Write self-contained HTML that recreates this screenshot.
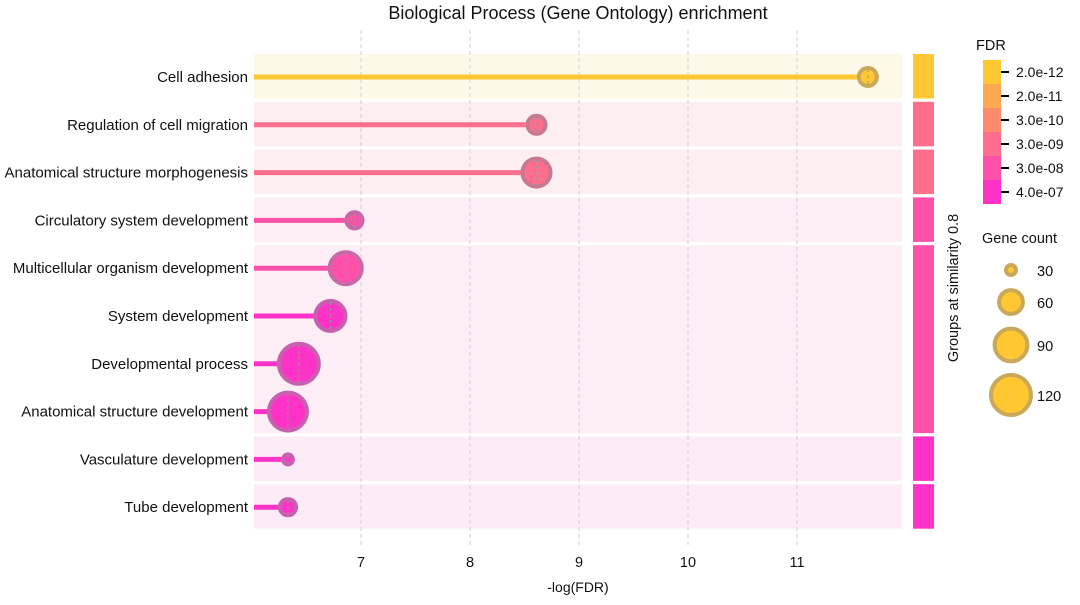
<!DOCTYPE html>
<html><head><meta charset="utf-8"><style>
body{margin:0;background:#fff;font-family:"Liberation Sans",Arial,sans-serif}
svg text{font-family:"Liberation Sans",Arial,sans-serif;fill:#111}
</style></head><body>
<svg id="c" width="1080" height="600" viewBox="0 0 1080 600">
<text x="578" y="19" font-size="18" text-anchor="middle">Biological Process (Gene Ontology) enrichment</text>
<text x="578" y="592" font-size="14" text-anchor="middle">-log(FDR)</text>
<g id="bands"></g><g id="grid"></g><g id="marks"></g><g id="grp"></g><g id="legend"></g>
<text transform="translate(958,288) rotate(-90)" font-size="14.5" text-anchor="middle">Groups at similarity 0.8</text>
</svg>
<script>
const terms=["Cell adhesion","Regulation of cell migration","Anatomical structure morphogenesis","Circulatory system development","Multicellular organism development","System development","Developmental process","Anatomical structure development","Vasculature development","Tube development"];
const negLogFDR=[11.65,8.61,8.61,6.94,6.86,6.72,6.43,6.33,6.33,6.33];
const geneCount=[45,45,73,41,87,80,120,111,30,41];
const colorIdx=[0,3,3,4,4,5,5,5,5,5];
const groups=[[0,0],[1,1],[2,2],[3,3],[4,7],[8,8],[9,9]];
const xTicks=[7,8,9,10,11];
const fdrLabels=["2.0e-12","2.0e-11","3.0e-10","3.0e-09","3.0e-08","4.0e-07"];
const sizeLegend=[30,60,90,120];
const palette=["#ffc832","#ffa852","#ff8a6e","#ff6e8c","#ff50aa","#ff32c8"];
const edge=["#c9a85a","#c9a85a","#c98878","#c87890","#c868a8","#c860b0"];
const bandFill=["#fef8e8","#fdf0f0","#fdeef2","#fdeef2","#fdeef6","#fdecf8"];
const NS="http://www.w3.org/2000/svg";
function mk(t,a,p){const e=document.createElementNS(NS,t);for(const k in a)e.setAttribute(k,a[k]);p.appendChild(e);return e;}
const X0=6.0183,PX=109,L=254,R=902;
const xs=v=>L+(v-X0)*PX;
const ys=i=>77+i*47.8;
const rs=c=>Math.sqrt(Math.max(4.83*c-96,9));
const bands=document.getElementById('bands'),grid=document.getElementById('grid'),marks=document.getElementById('marks'),grp=document.getElementById('grp'),lg=document.getElementById('legend');
groups.forEach((g,k)=>{
 const y1=ys(g[0])-23,y2=ys(g[1])+21.5;
 const b=mk('rect',{x:L,y:y1,width:R-L,height:y2-y1,fill:bandFill[colorIdx[g[0]]]},bands);
 
 
 const s=mk('rect',{x:913,y:y1,width:21,height:y2-y1,fill:palette[colorIdx[g[0]]]},grp);
 
 
});
xTicks.forEach(t=>{
 const l=mk('line',{x1:xs(t),x2:xs(t),y1:30,y2:545,stroke:'#cfcfcf','stroke-dasharray':'4,3','stroke-width':1},grid);
 
 
 const tx=mk('text',{x:xs(t),y:567,'font-size':14.5,'text-anchor':'middle'},grid);tx.textContent=t;
 
 
});
terms.forEach((n,i)=>{
 const y=ys(i),x=xs(negLogFDR[i]),r=rs(geneCount[i]),c=palette[colorIdx[i]];
 const st=mk('line',{x1:L,x2:x,y1:y,y2:y,stroke:c,'stroke-width':5},marks);
 
 
 const ci=mk('circle',{cx:x,cy:y,r:r-2,fill:c,stroke:edge[colorIdx[i]],'stroke-width':4},marks);
 
 
 mk('line',{x1:x,x2:x,y1:y-r+3,y2:y+r-3,stroke:'#999','stroke-dasharray':'3,3','stroke-width':1},marks);
 const t=mk('text',{x:248,y:y+5,'font-size':15,'text-anchor':'end'},marks);t.textContent=n;
 
 
});
const ft=mk('text',{x:976,y:50,'font-size':14.5},lg);ft.textContent='FDR';


fdrLabels.forEach((s,i)=>{
 const y=60+i*24;
 const r=mk('rect',{x:983,y:y,width:18,height:24,fill:palette[i]},lg);
 
 
 mk('line',{x1:1001,x2:1009,y1:y+12,y2:y+12,stroke:'#000','stroke-width':2},lg);
 const t=mk('text',{x:1016,y:y+17,'font-size':14},lg);t.textContent=s;
 
 
});
const gt=mk('text',{x:982,y:243,'font-size':14.5},lg);gt.textContent='Gene count';


const ly=[270,302,345,395];
sizeLegend.forEach((c,i)=>{
 const r=rs(c);
 const ci=mk('circle',{cx:1011,cy:ly[i],r:r-2,fill:'#ffc832',stroke:'#c9a85a','stroke-width':4},lg);
 
 
 const t=mk('text',{x:1037,y:ly[i]+6,'font-size':14.5},lg);t.textContent=c;
 
 
});
</script>
</body></html>
